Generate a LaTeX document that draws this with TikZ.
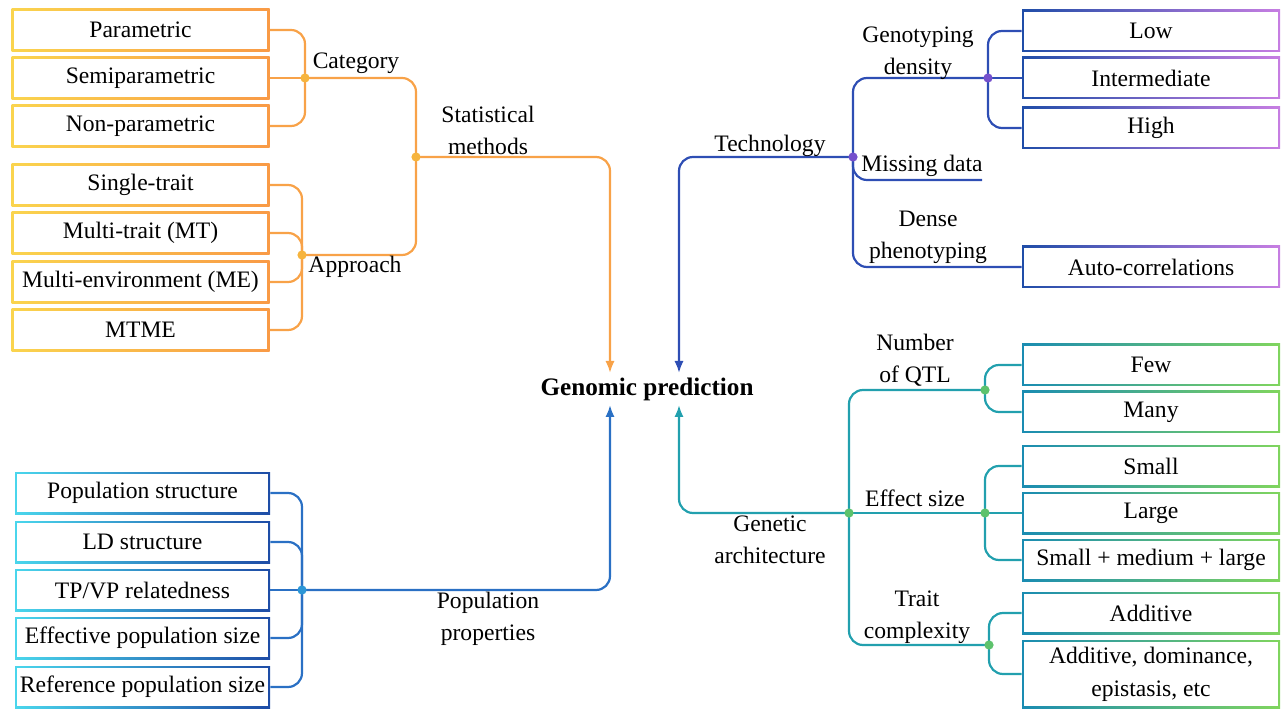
\documentclass[tikz,border=0pt]{standalone}
\usepackage{fontspec}
\setmainfont{Liberation Serif}
\usetikzlibrary{arrows.meta}
\definecolor{oyel}{HTML}{FAD44E}
\definecolor{oorg}{HTML}{F99A46}
\definecolor{oline}{HTML}{F8A248}
\definecolor{odot}{HTML}{F6B43E}
\definecolor{tblue}{HTML}{1F4DA8}
\definecolor{tpurp}{HTML}{C77EE2}
\definecolor{tline}{HTML}{2E4EB4}
\definecolor{tdot}{HTML}{7450CC}
\definecolor{gteal}{HTML}{1A8CB2}
\definecolor{ggreen}{HTML}{80D55E}
\definecolor{gline}{HTML}{22A0AE}
\definecolor{gdot}{HTML}{5DC26C}
\definecolor{pcyan}{HTML}{4AD6EC}
\definecolor{pblue}{HTML}{1E4CA6}
\definecolor{pline}{HTML}{2A70C4}
\definecolor{pdot}{HTML}{2C96D6}
\begin{document}
\begin{tikzpicture}[x=0.5pt,y=-0.5pt,
    every node/.style={font=\fontsize{11.8}{16}\selectfont},
    box/.style={rectangle, inner sep=0pt, minimum width=129pt, minimum height=21pt, align=center,
      path picture={\fill[white] ([shift={(1.1pt,1.1pt)}]path picture bounding box.south west)
        rectangle ([shift={(-1.1pt,-1.1pt)}]path picture bounding box.north east);}},
    obox/.style={box, left color=oyel, right color=oorg, minimum height=21.5pt},
    tbox/.style={box, left color=tblue, right color=tpurp},
    gbox/.style={box, left color=gteal, right color=ggreen},
    pbox/.style={box, left color=pcyan, right color=pblue, minimum width=127.5pt},
    link/.style={line width=1.1pt, rounded corners=7pt},
    tip/.style={-{Latex[length=6pt,width=4.6pt]}},
    lab/.style={align=center, inner sep=0pt}]
  \useasboundingbox (0,0) rectangle (1283,710);

  % centre
  \node[font=\fontsize{12.6}{16}\selectfont\bfseries] (gp) at (647,389) {Genomic prediction};
  \coordinate (sin) at (610,373);
  \coordinate (tin) at (679,373);
  \coordinate (pin) at (610,405);
  \coordinate (gin) at (679,405);

  % statistical methods
  \node[obox] (param) at (140.5,30) {Parametric};
  \node[obox] (semi) at (140.5,78) {Semiparametric};
  \node[obox] (nonpar) at (140.5,126) {Non-parametric};
  \node[obox] (single) at (140.5,185) {Single-trait};
  \node[obox] (mt) at (140.5,233) {Multi-trait (MT)};
  \node[obox] (me) at (140.5,282) {Multi-environment (ME)};
  \node[obox] (mtme) at (140.5,330) {MTME};
  \coordinate (catj) at (305,78);
  \coordinate (appj) at (302,255);
  \coordinate (statj) at (416,157);
  \draw[link,oline] (param.east) -| (catj);
  \draw[link,oline] (semi.east) -- (catj);
  \draw[link,oline] (nonpar.east) -| (catj);
  \draw[link,oline] (single.east) -| (appj);
  \draw[link,oline] (mt.east) -| (appj);
  \draw[link,oline] (me.east) -| (appj);
  \draw[link,oline] (mtme.east) -| (appj);
  \draw[link,oline] (catj) -| (statj);
  \draw[link,oline] (appj) -| (statj);
  \draw[link,oline,tip] (statj) -| (sin);
  \foreach \j in {catj,appj,statj} \fill[odot] (\j) circle (2.3pt);
  \node[lab] (cat) at (356,63) {Category};
  \node[lab] (app) at (355,267) {Approach};
  \node[lab] (stat) at (488,130) {Statistical\\methods};

  % technology
  \node[tbox] (low) at (1151,31) {Low};
  \node[tbox] (inter) at (1151,78) {Intermediate};
  \node[tbox] (high) at (1151,128) {High};
  \node[tbox] (auto) at (1151,267) {Auto-correlations};
  \coordinate (techj) at (853,157);
  \coordinate (genoj) at (988,78);
  \coordinate (missend) at (982,180);
  \draw[link,tline,tip] (techj) -| (tin);
  \draw[link,tline] (techj) |- (genoj);
  \draw[link,tline] (techj) |- (missend);
  \draw[link,tline] (techj) |- (auto.west);
  \draw[link,tline] (genoj) |- (low.west);
  \draw[link,tline] (genoj) -- (inter.west);
  \draw[link,tline] (genoj) |- (high.west);
  \foreach \j in {techj,genoj} \fill[tdot] (\j) circle (2.3pt);
  \node[lab] (tech) at (770,146) {Technology};
  \node[lab] (geno) at (918,53) {Genotyping\\density};
  \node[lab] (miss) at (922,166) {Missing data};
  \node[lab] (dense) at (928,237) {Dense\\phenotyping};

  % genetic architecture
  \node[gbox] (few) at (1151,365) {Few};
  \node[gbox] (many) at (1151,412) {Many};
  \node[gbox] (small) at (1151,466) {Small};
  \node[gbox] (large) at (1151,513) {Large};
  \node[gbox] (sml) at (1151,560) {Small + medium + large};
  \node[gbox] (add) at (1151,613) {Additive};
  \node[gbox, minimum height=34pt, font=\fontsize{11.8}{16.5}\selectfont] (adddom) at (1151,674) {Additive, dominance,\\epistasis, etc};
  \coordinate (archj) at (849,513);
  \coordinate (qtlj) at (985,390);
  \coordinate (effj) at (985,513);
  \coordinate (traitj) at (989,645);
  \draw[link,gline,tip] (archj) -| (gin);
  \draw[link,gline] (archj) |- (qtlj);
  \draw[link,gline] (archj) -- (effj);
  \draw[link,gline] (archj) |- (traitj);
  \draw[link,gline] (qtlj) |- (few.west);
  \draw[link,gline] (qtlj) |- (many.west);
  \draw[link,gline] (effj) |- (small.west);
  \draw[link,gline] (effj) -- (large.west);
  \draw[link,gline] (effj) |- (sml.west);
  \draw[link,gline] (traitj) |- (add.west);
  \draw[link,gline] (traitj) |- (adddom.west);
  \foreach \j in {archj,qtlj,effj,traitj} \fill[gdot] (\j) circle (2.3pt);
  \node[lab] (arch) at (770,540) {Genetic\\architecture};
  \node[lab] (qtl) at (915,360) {Number\\of QTL};
  \node[lab] (eff) at (915,498) {Effect size};
  \node[lab] (trait) at (917,617) {Trait\\complexity};

  % population properties
  \node[pbox] (popstr) at (142.5,493) {Population structure};
  \node[pbox] (ld) at (142.5,542) {LD structure};
  \node[pbox] (tpvp) at (142.5,590) {TP/VP relatedness};
  \node[pbox] (effpop) at (142.5,638) {Effective population size};
  \node[pbox] (refpop) at (142.5,687) {Reference population size};
  \coordinate (popj) at (302,590);
  \draw[link,pline] (popstr.east) -| (popj);
  \draw[link,pline] (ld.east) -| (popj);
  \draw[link,pline] (tpvp.east) -- (popj);
  \draw[link,pline] (effpop.east) -| (popj);
  \draw[link,pline] (refpop.east) -| (popj);
  \draw[link,pline,tip] (popj) -| (pin);
  \fill[pdot] (popj) circle (2.3pt);
  \node[lab] (pop) at (488,619) {Population\\properties};
\end{tikzpicture}
\end{document}
